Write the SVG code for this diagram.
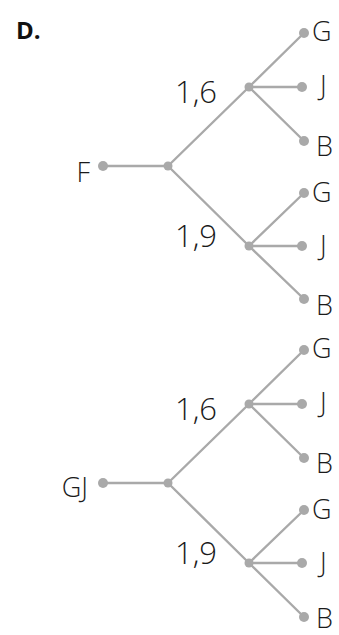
<svg xmlns="http://www.w3.org/2000/svg" width="339" height="635" viewBox="0 0 339 635">
<style>
.e{stroke:#a9a9a9;stroke-width:2.4;fill:none}
.d{fill:#a9a9a9}
.t{font-family:"Open Sans","Liberation Sans",sans-serif;font-size:27px;font-weight:350;fill:#1a1a1a}
.n{font-family:"Open Sans","Liberation Sans",sans-serif;font-size:31px;font-weight:350;fill:#1a1a1a}
.h{font-family:"Open Sans","Liberation Sans",sans-serif;font-size:24px;font-weight:bold;fill:#111}
</style>
<text class="h" x="16" y="39">D.</text>
<g id="connectors">
<path class="e" d="M103 166H168M168 166L249 87M168 166L249 246M249 87L304 33M249 87H302M249 87L304 141M249 246L304 193M249 246H302M249 246L304 299"/>
<path class="e" d="M103 483H168M168 483L249 404M168 483L249 563M249 404L304 350M249 404H302M249 404L304 458M249 563L304 510M249 563H302M249 563L304 617"/>
</g>
<g id="tree1">
<g id="F"><circle class="d" cx="103" cy="166" r="5"/><text class="t" x="90" y="182" text-anchor="end">F</text></g>
<g id="m1"><circle class="d" cx="168" cy="166" r="4.5"/></g>
<g id="n16a"><circle class="d" cx="249" cy="87" r="4.5"/><text class="n" x="175" y="103">1,6</text></g>
<g id="n19a"><circle class="d" cx="249" cy="246" r="4.5"/><text class="n" x="175" y="247">1,9</text></g>
<g id="G1"><circle class="d" cx="304" cy="33" r="5"/><text class="t" x="312" y="41">G</text></g>
<g id="J1"><circle class="d" cx="302" cy="87" r="5"/><text class="t" x="320" y="95">J</text></g>
<g id="B1"><circle class="d" cx="304" cy="141" r="5"/><text class="t" x="316" y="156">B</text></g>
<g id="G2"><circle class="d" cx="304" cy="193" r="5"/><text class="t" x="312" y="202">G</text></g>
<g id="J2"><circle class="d" cx="302" cy="246" r="5"/><text class="t" x="320" y="255">J</text></g>
<g id="B2"><circle class="d" cx="304" cy="299" r="5"/><text class="t" x="316" y="315">B</text></g>
</g>
<g id="tree2">
<g id="GJ"><circle class="d" cx="103" cy="483" r="5"/><text class="t" x="88" y="497" text-anchor="end">GJ</text></g>
<g id="m2"><circle class="d" cx="168" cy="483" r="4.5"/></g>
<g id="n16b"><circle class="d" cx="249" cy="404" r="4.5"/><text class="n" x="175" y="420">1,6</text></g>
<g id="n19b"><circle class="d" cx="249" cy="563" r="4.5"/><text class="n" x="175" y="564">1,9</text></g>
<g id="G3"><circle class="d" cx="304" cy="350" r="5"/><text class="t" x="312" y="358">G</text></g>
<g id="J3"><circle class="d" cx="302" cy="404" r="5"/><text class="t" x="320" y="412">J</text></g>
<g id="B3"><circle class="d" cx="304" cy="458" r="5"/><text class="t" x="316" y="473">B</text></g>
<g id="G4"><circle class="d" cx="304" cy="510" r="5"/><text class="t" x="312" y="519">G</text></g>
<g id="J4"><circle class="d" cx="302" cy="563" r="5"/><text class="t" x="320" y="572">J</text></g>
<g id="B4"><circle class="d" cx="304" cy="617" r="5"/><text class="t" x="316" y="628">B</text></g>
</g>
</svg>
